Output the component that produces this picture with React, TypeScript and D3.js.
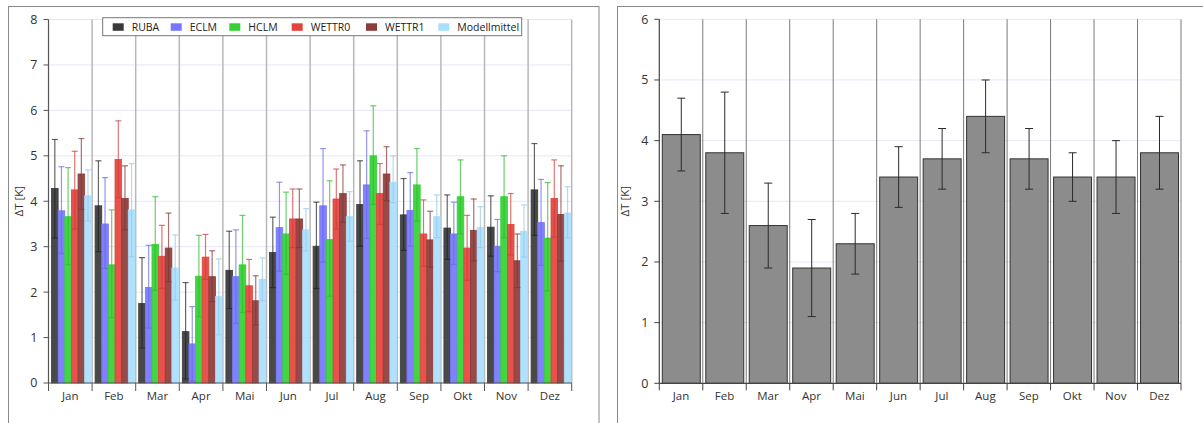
import React from "react";
import * as d3 from "d3";

const months = ["Jan", "Feb", "Mar", "Apr", "Mai", "Jun", "Jul", "Aug", "Sep", "Okt", "Nov", "Dez"];
const seriesNames = ["RUBA", "ECLM", "HCLM", "WETTR0", "WETTR1", "Modellmittel"];
const seriesColors = ["#3a3a3a", "#7676ff", "#33d133", "#e5433d", "#8e3c3a", "#a9dfff"];

const rubaVal = [4.28, 3.9, 1.75, 1.13, 2.48, 2.87, 3.01, 3.93, 3.7, 3.41, 3.43, 4.25];
const rubaLo = [3.19, 2.89, 0.77, 0.09, 1.64, 2.1, 2.08, 3.01, 2.92, 2.72, 2.79, 3.25];
const rubaHi = [5.36, 4.89, 2.76, 2.21, 3.34, 3.65, 3.98, 4.89, 4.5, 4.14, 4.12, 5.27];

const eclmVal = [3.79, 3.5, 2.1, 0.86, 2.34, 3.42, 3.9, 4.36, 3.8, 3.28, 3.01, 3.53];
const eclmLo = [2.85, 2.52, 1.21, 0.04, 1.31, 2.46, 2.66, 3.18, 3.01, 2.61, 2.45, 2.59];
const eclmHi = [4.76, 4.52, 3.03, 1.68, 3.37, 4.42, 5.16, 5.55, 4.63, 3.98, 3.6, 4.48];

const hclmVal = [3.66, 2.6, 3.05, 2.35, 2.6, 3.28, 3.16, 5.0, 4.36, 4.1, 4.1, 3.19];
const hclmLo = [2.6, 1.44, 2.04, 1.46, 1.55, 2.39, 1.91, 3.93, 3.56, 3.28, 3.2, 2.03];
const hclmHi = [4.74, 3.81, 4.1, 3.25, 3.69, 4.2, 4.45, 6.1, 5.16, 4.91, 5.0, 4.41];

const w0Val = [4.25, 4.92, 2.79, 2.77, 2.14, 3.61, 4.05, 4.17, 3.28, 2.97, 3.49, 4.06];
const w0Lo = [3.39, 4.08, 2.08, 2.28, 1.57, 2.98, 3.39, 3.49, 2.57, 2.26, 2.82, 3.21];
const w0Hi = [5.1, 5.77, 3.47, 3.27, 2.72, 4.27, 4.71, 4.83, 4.03, 3.69, 4.17, 4.91];

const w1Val = [4.6, 4.06, 2.97, 2.34, 1.81, 3.61, 4.17, 4.6, 3.15, 3.36, 2.69, 3.71];
const w1Lo = [3.82, 3.37, 2.23, 1.79, 1.28, 2.98, 3.54, 4.01, 2.55, 2.69, 2.1, 2.68];
const w1Hi = [5.38, 4.78, 3.74, 2.91, 2.36, 4.27, 4.8, 5.2, 3.78, 4.05, 3.28, 4.78];

const mmVal = [4.12, 3.81, 2.53, 1.9, 2.28, 3.37, 3.66, 4.42, 3.66, 3.42, 3.34, 3.74];
const mmLo = [3.57, 2.78, 1.82, 1.06, 1.81, 2.91, 3.12, 3.97, 3.2, 2.98, 2.77, 3.19];
const mmHi = [4.69, 4.83, 3.26, 2.73, 2.75, 3.84, 4.21, 5.0, 4.14, 3.88, 3.92, 4.32];

const meanVal = [4.1, 3.8, 2.6, 1.9, 2.3, 3.4, 3.7, 4.4, 3.7, 3.4, 3.4, 3.8];
const meanLo = [3.5, 2.8, 1.9, 1.1, 1.8, 2.9, 3.2, 3.8, 3.2, 3.0, 2.8, 3.2];
const meanHi = [4.7, 4.8, 3.3, 2.7, 2.8, 3.9, 4.2, 5.0, 4.2, 3.8, 4.0, 4.4];

const leftTicks = [0, 1, 2, 3, 4, 5, 6, 7, 8];
const rightTicks = [0, 1, 2, 3, 4, 5, 6];

const seriesVals = [rubaVal, eclmVal, hclmVal, w0Val, w1Val, mmVal];
const seriesLo = [rubaLo, eclmLo, hclmLo, w0Lo, w1Lo, mmLo];
const seriesHi = [rubaHi, eclmHi, hclmHi, w0Hi, w1Hi, mmHi];

const FONT = "'Open Sans', 'Lato', sans-serif";

function LeftChart() {
  const x0 = 48.5, x1 = 571.7, yTop = 19.5, yBot = 383;
  const x = d3.scaleBand<string>().domain(months).range([x0, x1]).paddingInner(0).paddingOuter(0);
  const bw = x.bandwidth();
  const xs = d3.scaleBand<string>().domain(seriesNames).range([3, bw - 0.8]).padding(0);
  const y = d3.scaleLinear().domain([0, 8]).range([yBot, yTop]);
  const sep = months.map((m) => x(m)!).concat([x1]);
  const legendX = [112.7, 170.7, 229.3, 291.7, 366, 438.3];
  return (
    <g>
      <rect x={8.5} y={6.5} width={590.5} height={430} fill="#fff" stroke="#8a8a8a" strokeWidth={1} />
      {leftTicks.slice(1).map((t) => (
        <line key={t} x1={x0} x2={x1} y1={y(t)} y2={y(t)} stroke="#e6e6fa" strokeWidth={1} />
      ))}
      {sep.slice(1).map((s, i) => (
        <line key={i} x1={s} x2={s} y1={yTop} y2={yBot} stroke="#b8b8b8" strokeWidth={1.5} />
      ))}
      {months.map((m, mi) =>
        seriesNames.map((s, si) => {
          const bx = x(m)! + xs(s)!;
          const w = xs.bandwidth();
          const v = seriesVals[si][mi];
          return (
            <rect key={m + s} x={bx} y={y(v)} width={w} height={yBot - y(v)} fill={seriesColors[si]}
              fillOpacity={0.92} stroke={seriesColors[si]} strokeWidth={0.8} />
          );
        })
      )}
      {months.map((m, mi) =>
        seriesNames.map((s, si) => {
          const cx = x(m)! + xs(s)! + xs.bandwidth() / 2;
          const lo = y(seriesLo[si][mi]);
          const hi = y(seriesHi[si][mi]);
          const c = si === 0 ? "#222" : d3.color(seriesColors[si])!.darker(0.3).toString();
          return (
            <g key={"e" + m + s} stroke={c} strokeOpacity={0.7} strokeWidth={1.2}>
              <line x1={cx} x2={cx} y1={lo} y2={hi} />
              <line x1={cx - 3} x2={cx + 3} y1={lo} y2={lo} />
              <line x1={cx - 3} x2={cx + 3} y1={hi} y2={hi} />
            </g>
          );
        })
      )}
      <line x1={x0} x2={x0} y1={yTop} y2={yBot} stroke="#555" strokeWidth={1.2} />
      <line x1={x0} x2={x1} y1={yBot} y2={yBot} stroke="#555" strokeWidth={1.2} />
      {leftTicks.map((t) => (
        <g key={t}>
          <line x1={x0 - 5} x2={x0} y1={y(t)} y2={y(t)} stroke="#555" />
          <text x={x0 - 11} y={y(t)} dy="0.35em" textAnchor="end" fontSize={12.5} fill="#333" fontFamily={FONT}>{t}</text>
        </g>
      ))}
      {sep.map((s, i) => (
        <line key={i} x1={s} x2={s} y1={yBot} y2={yBot + 8} stroke="#555" />
      ))}
      {months.map((m) => (
        <text key={m} x={x(m)! + bw / 2} y={yBot + 17} textAnchor="middle" fontSize={11.5} fill="#333" fontFamily={FONT}>{m}</text>
      ))}
      <text transform={`translate(23,${(yTop + yBot) / 2}) rotate(-90)`} textAnchor="middle" fontSize={11.5} fill="#333" fontFamily={FONT}>ΔT [K]</text>
      <rect x={102.7} y={17.7} width={419} height={18} fill="#fff" stroke="#777" strokeWidth={1} />
      {seriesNames.map((s, i) => (
        <g key={s}>
          <rect x={legendX[i]} y={23.3} width={11} height={7.5} fill={seriesColors[i]} />
          <text x={legendX[i] + 19} y={27} dy="0.35em" fontSize={10.5} fill="#222" fontFamily={FONT}>{s}</text>
        </g>
      ))}
    </g>
  );
}

function RightChart() {
  const x0 = 659.3, x1 = 1181, yTop = 19.3, yBot = 383.3;
  const x = d3.scaleBand<string>().domain(months).range([x0, x1]);
  const bw = x.bandwidth();
  const y = d3.scaleLinear().domain([0, 6]).range([yBot, yTop]);
  const sep = months.map((m) => x(m)!).concat([x1]);
  return (
    <g>
      <rect x={617.5} y={6.5} width={600} height={430} fill="#fff" stroke="#8a8a8a" strokeWidth={1} />
      {rightTicks.slice(1).map((t) => (
        <line key={t} x1={x0} x2={x1} y1={y(t)} y2={y(t)} stroke="#e6e6fa" strokeWidth={1} />
      ))}
      {sep.slice(1).map((s, i) => (
        <line key={i} x1={s} x2={s} y1={yTop} y2={yBot} stroke="#7a7a7a" strokeWidth={1} />
      ))}
      {months.map((m, i) => {
        const v = meanVal[i];
        return (
          <rect key={m} x={x(m)! + 3} y={y(v)} width={bw - 5.5} height={yBot - y(v)} fill="#8c8c8c" stroke="#333" strokeWidth={1} />
        );
      })}
      {months.map((m, i) => {
        const cx = x(m)! + 3 + (bw - 5.5) / 2;
        const lo = y(meanLo[i]);
        const hi = y(meanHi[i]);
        return (
          <g key={"e" + m} stroke="#2a2a2a" strokeWidth={1}>
            <line x1={cx} x2={cx} y1={lo} y2={hi} />
            <line x1={cx - 4} x2={cx + 4} y1={lo} y2={lo} />
            <line x1={cx - 4} x2={cx + 4} y1={hi} y2={hi} />
          </g>
        );
      })}
      <line x1={x0} x2={x0} y1={yTop} y2={yBot} stroke="#444" strokeWidth={1.2} />
      <line x1={x0} x2={x1} y1={yBot} y2={yBot} stroke="#444" strokeWidth={1.2} />
      {rightTicks.map((t) => (
        <g key={t}>
          <line x1={x0 - 5} x2={x0} y1={y(t)} y2={y(t)} stroke="#444" />
          <text x={x0 - 11} y={y(t)} dy="0.35em" textAnchor="end" fontSize={12.5} fill="#333" fontFamily={FONT}>{t}</text>
        </g>
      ))}
      {sep.map((s, i) => (
        <line key={i} x1={s} x2={s} y1={yBot} y2={yBot + 7} stroke="#444" />
      ))}
      {months.map((m) => (
        <text key={m} x={x(m)! + bw / 2} y={yBot + 17} textAnchor="middle" fontSize={11.5} fill="#333" fontFamily={FONT}>{m}</text>
      ))}
      <text transform={`translate(629,${(yTop + yBot) / 2}) rotate(-90)`} textAnchor="middle" fontSize={11.5} fill="#333" fontFamily={FONT}>ΔT [K]</text>
    </g>
  );
}

export default function App() {
  return (
    <svg width={1203} height={423} style={{ position: "absolute", left: 0, top: 0, background: "#fff" }}>
      <rect x={0} y={0} width={1203} height={423} fill="#fff" />
      <LeftChart />
      <RightChart />
    </svg>
  );
}
